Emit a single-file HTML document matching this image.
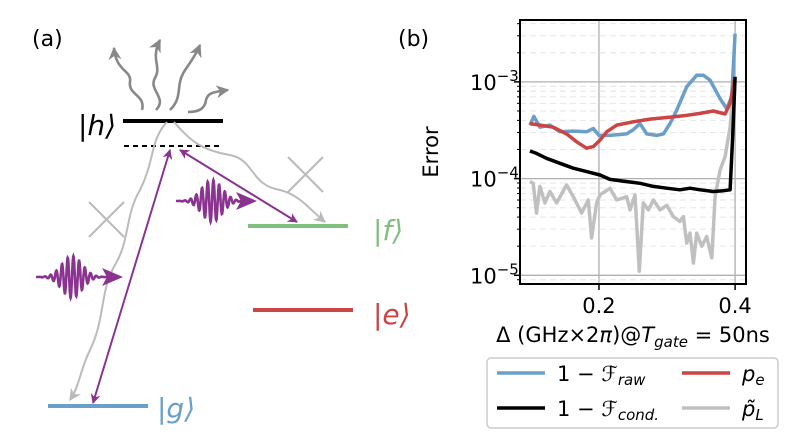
<!DOCTYPE html>
<html><head><meta charset="utf-8"><style>
html,body{margin:0;padding:0;background:#fff;}
svg{display:block;font-family:"DejaVu Sans","Liberation Sans",sans-serif;}
</style></head><body>
<svg id="fig" width="800" height="447" viewBox="0 0 800 447">
<defs>
<marker id="ap" viewBox="0 0 10 10" refX="9" refY="5" markerWidth="5" markerHeight="5" orient="auto-start-reverse"><path d="M0,0 L10,5 L0,10 L3,5 z" fill="#8b3390"/></marker>
<marker id="ag" viewBox="0 0 10 10" refX="9" refY="5" markerWidth="6" markerHeight="6" orient="auto"><path d="M0,0 L10,5 L0,10 L3,5 z" fill="#bbb"/></marker>
<marker id="ad" viewBox="0 0 10 10" refX="9" refY="5" markerWidth="5" markerHeight="5" orient="auto"><path d="M0,0 L10,5 L0,10 L3,5 z" fill="#888"/></marker>
</defs>
<g>
<text x="32" y="46" font-size="22">(a)</text>
<g fill="none" stroke="#888" stroke-width="2.6">
<path d="M142,110 C146,95 128,95 130,82 C132,70 116,72 114,48" marker-end="url(#ad)"/>
<path d="M156,110 C168,98 148,90 155,78 C162,66 150,60 160,40" marker-end="url(#ad)"/>
<path d="M170,110 C180,100 178,92 180,82 C182,70 192,64 200,45" marker-end="url(#ad)"/>
<path d="M188,112 C200,112 205,108 206,100 C208,92 215,92 228,90" marker-end="url(#ad)"/>
</g>
<line x1="123" y1="121" x2="223" y2="121" stroke="#000" stroke-width="4"/>
<line x1="124" y1="146" x2="222" y2="146" stroke="#000" stroke-width="2" stroke-dasharray="5,4"/>
<line x1="248" y1="226" x2="348" y2="226" stroke="#7fbf7f" stroke-width="4"/>
<line x1="253" y1="310" x2="353" y2="310" stroke="#cc4444" stroke-width="4"/>
<line x1="48" y1="406" x2="148" y2="406" stroke="#6a9fc9" stroke-width="4"/>
<text x="78" y="135" font-size="28" font-style="italic">|h⟩</text>
<text x="373" y="240" font-size="28" font-style="italic" fill="#7fbf7f">|f⟩</text>
<text x="373" y="324" font-size="28" font-style="italic" fill="#cc4444">|e⟩</text>
<text x="157" y="418" font-size="28" font-style="italic" fill="#6a9fc9">|g⟩</text>
<g fill="none" stroke="#bbb" stroke-width="2">
<path d="M167,122 C150,140 155,160 140,190 C125,215 130,240 115,265 C100,290 105,320 90,350 C80,370 80,385 70,400" marker-end="url(#ag)"/>
<path d="M174,122 C190,140 200,150 230,155 C255,160 250,185 280,190 C300,195 310,210 325,222" marker-end="url(#ag)"/>
</g>
<g stroke="#bbb" stroke-width="2">
<line x1="89" y1="202" x2="124" y2="237"/><line x1="124" y1="202" x2="89" y2="237"/>
<line x1="288" y1="157" x2="323" y2="192"/><line x1="323" y1="157" x2="288" y2="192"/>
</g>
<g stroke="#8b3390" stroke-width="2">
<line x1="93" y1="403" x2="170" y2="150" marker-start="url(#ap)" marker-end="url(#ap)"/>
<line x1="180" y1="150" x2="297" y2="222" marker-start="url(#ap)" marker-end="url(#ap)"/>
</g>
<path id="wp1" fill="none" stroke="#8b3390" stroke-width="2.6"/>
<path id="wp2" fill="none" stroke="#8b3390" stroke-width="2.6"/>
</g>

<g id="chart">
<text x="398" y="46" font-size="22">(b)</text>
</g>
</svg>
<script>
// Chart data
const rawX=[0.0985,0.1044,0.1132,0.1279,0.1426,0.1623,0.1819,0.1917,0.2,0.2162,0.2407,0.2505,0.2603,0.2701,0.2848,0.2946,0.3044,0.3142,0.3289,0.3436,0.3534,0.3632,0.3779,0.3877,0.395,0.4];
const rawY=[3.57e-4,4.4e-4,3.4e-4,3.57e-4,3.05e-4,3.1e-4,3.05e-4,3.3e-4,2.8e-4,2.8e-4,2.9e-4,3.2e-4,3.7e-4,2.9e-4,2.8e-4,2.9e-4,3.7e-4,5.1e-4,8.9e-4,1.17e-3,1.17e-3,1.04e-3,6.7e-4,5.3e-4,7.0e-4,3.15e-3];
const peX=[0.0985,0.1132,0.1328,0.1525,0.1672,0.1819,0.1917,0.2015,0.2113,0.2260,0.2505,0.2750,0.2995,0.3240,0.3485,0.3681,0.3853,0.3926,0.3990];
const peY=[3.7e-4,3.57e-4,3.4e-4,2.9e-4,2.4e-4,2.06e-4,2.14e-4,2.5e-4,3.05e-4,3.57e-4,3.87e-4,4.12e-4,4.28e-4,4.46e-4,4.72e-4,5.0e-4,4.65e-4,6.0e-4,1.04e-3];
const condX=[0.0985,0.1083,0.1230,0.1426,0.1623,0.1819,0.2015,0.2162,0.2407,0.2603,0.2799,0.2995,0.3191,0.3338,0.3485,0.3681,0.3828,0.3926,0.3966,0.4];
const condY=[1.93e-4,1.82e-4,1.62e-4,1.44e-4,1.28e-4,1.18e-4,1.09e-4,9.8e-5,9.3e-5,8.95e-5,8.3e-5,7.95e-5,7.65e-5,7.95e-5,7.65e-5,7.35e-5,7.5e-5,7.65e-5,2.9e-4,1.13e-3];
const plX=[0.0985,0.1034,0.1083,0.1132,0.1206,0.1279,0.1377,0.1525,0.1623,0.1745,0.1843,0.1892,0.1966,0.2015,0.2162,0.2260,0.2407,0.2456,0.2529,0.2593,0.2652,0.2725,0.2799,0.2897,0.2995,0.3093,0.3191,0.3240,0.3289,0.3338,0.3387,0.3436,0.3510,0.3583,0.3657,0.3706,0.3779,0.3853,0.3926,0.3975];
const plY=[9.3e-5,8.95e-5,4.4e-5,8.3e-5,5.6e-5,7.35e-5,5.6e-5,8.6e-5,6.5e-5,4.4e-5,6.0e-5,2.43e-5,5.6e-5,6.8e-5,7.95e-5,6.0e-5,6.5e-5,4.75e-5,6.8e-5,1.1e-5,5.6e-5,4.75e-5,6.0e-5,4.75e-5,5.3e-5,4.05e-5,3.6e-5,4.05e-5,2.15e-5,2.73e-5,1.34e-5,2.73e-5,2.0e-5,2.52e-5,1.51e-5,6.5e-5,1.23e-4,1.69e-4,3.4e-4,8.9e-4];
const xTicks=[0.2,0.4];
const xTickLabels=["0.2","0.4"];
const yDecades=[-5,-4,-3];

const NS="http://www.w3.org/2000/svg";
const svg=document.getElementById('fig');
const chart=document.getElementById('chart');
const L=520,R=746,T=20,B=284;
const x0=0.084,x1=0.416,e0=-5.09,e1=-2.36;
const sx=v=>L+(v-x0)/(x1-x0)*(R-L);
const sy=v=>B-(Math.log10(v)-e0)/(e1-e0)*(B-T);
function mk(tag,attrs,parent){const el=document.createElementNS(NS,tag);for(const k in attrs)el.setAttribute(k,attrs[k]);(parent||chart).appendChild(el);return el;}

for(let d=-6;d<=-2;d++){for(let m=2;m<=9;m++){const v=m*Math.pow(10,d);const y=sy(v);if(y<T||y>B)continue;
const g=mk('line',{x1:L,x2:R,y1:y,y2:y,stroke:'#e6e6e6','stroke-width':1,'stroke-dasharray':'6,4'});


const t=mk('line',{x1:L-3,x2:L,y1:y,y2:y,stroke:'#000','stroke-width':1});

}}
yDecades.forEach(d=>{const y=sy(Math.pow(10,d));
const g=mk('line',{x1:L,x2:R,y1:y,y2:y,stroke:'#b0b0b0','stroke-width':1.3});


const t=mk('line',{x1:L-6,x2:L,y1:y,y2:y,stroke:'#000','stroke-width':1.5});


const tx=mk('text',{x:L-50,y:y+8,'font-size':21});


tx.innerHTML='10<tspan dy="-9" font-size="15">−'+(-d)+'</tspan>';});
xTicks.forEach((v,i)=>{const x=sx(v);
const g=mk('line',{x1:x,x2:x,y1:T,y2:B,stroke:'#b0b0b0','stroke-width':1.3});


const t=mk('line',{x1:x,x2:x,y1:B,y2:B+6,stroke:'#000','stroke-width':1.5});


const tx=mk('text',{x:x,y:B+29,'font-size':21,'text-anchor':'middle'});


tx.textContent=xTickLabels[i];});

function series(xs,ys,color,w,name){const d=xs.map((v,i)=>(i?'L':'M')+sx(v).toFixed(1)+','+sy(ys[i]).toFixed(1)).join(' ');
const p=mk('path',{d:d,fill:'none',stroke:color,'stroke-width':w,'stroke-linejoin':'round'});

}
series(plX,plY,'#c0c0c0',3.5,'series-p-leak');
series(rawX,rawY,'#6a9fc9',3.5,'series-raw-infidelity');
series(peX,peY,'#cc4444',3.5,'series-p-e');
series(condX,condY,'#000',3.5,'series-cond-infidelity');

const fr=mk('rect',{x:L,y:T,width:R-L,height:B-T,fill:'none',stroke:'#000','stroke-width':2});


const yl=mk('text',{x:0,y:0,'font-size':21,'text-anchor':'middle',transform:'translate(438,152) rotate(-90)'});


yl.textContent='Error';
const xl=mk('text',{x:633,y:342,'font-size':21,'text-anchor':'middle'});


xl.innerHTML='Δ (GHz×2<tspan font-style="italic">π</tspan>)@<tspan font-style="italic">T</tspan><tspan font-style="italic" font-size="15" dy="5">gate</tspan><tspan dy="-5"> = 50ns</tspan>';

const lg=mk('g',{});


mk('rect',{x:487,y:358,width:291,height:70,rx:4,fill:'#fff',stroke:'#ccc','stroke-width':1.5},lg);
const entries=[[497,373,'#6a9fc9','1 − <tspan font-style="italic">ℱ</tspan><tspan font-style="italic" font-size="15" dy="4">raw</tspan>','legend-raw'],
[682,373,'#cc4444','<tspan font-style="italic">p</tspan><tspan font-style="italic" font-size="15" dy="4">e</tspan>','legend-pe'],
[497,408,'#000','1 − <tspan font-style="italic">ℱ</tspan><tspan font-style="italic" font-size="15" dy="4">cond.</tspan>','legend-cond'],
[682,408,'#c0c0c0','<tspan font-style="italic">p̃</tspan><tspan font-style="italic" font-size="15" dy="4">L</tspan>','legend-pl']];
entries.forEach(e=>{const g=mk('g',{},lg);


mk('line',{x1:e[0],x2:e[0]+48,y1:e[1],y2:e[1],stroke:e[2],'stroke-width':3.5},g);
const t=mk('text',{x:e[0]+60,y:e[1]+8,'font-size':21},g);t.innerHTML=e[3];});

function packet(id,cx,cy,w,amp){let d='';for(let i=0;i<=300;i++){const t=-w/2+i*w/300;const env=Math.exp(-Math.pow(t/(w*0.2),2));const y=cy-amp*env*Math.sin(t*1.1);d+=(i?'L':'M')+(cx+t).toFixed(1)+','+y.toFixed(1);}document.getElementById(id).setAttribute('d',d);}
packet('wp1',72,277,72,21);
packet('wp2',212,201,72,21);
const a1=mk('path',{d:'M102,268 L123,277 L102,286 L107,277z',fill:'#8b3390'},svg);


const a2=mk('path',{d:'M236,192 L257,201 L236,210 L241,201z',fill:'#8b3390'},svg);


</script>
</body></html>
